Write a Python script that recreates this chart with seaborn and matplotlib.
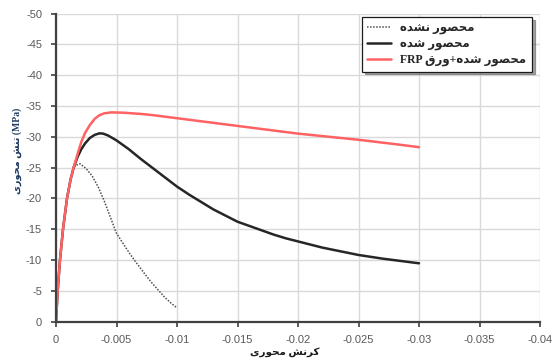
import matplotlib
matplotlib.use("Agg")
import matplotlib.pyplot as plt
from matplotlib.ticker import FuncFormatter
import seaborn as sns
import pandas as pd

# ---- data: axial strain (negative = compression) and axial stress in MPa ----
rise_strain = [0.0, -0.00014, -0.00033, -0.00058, -0.00091, -0.00120, -0.00146]
rise_stress = [0.0, -5.0, -10.0, -15.0, -20.0, -23.0, -25.0]

unconf_strain = rise_strain + [-0.0017, -0.0020, -0.0025, -0.0030, -0.0035, -0.0040, -0.0045,
                               -0.0050, -0.0055, -0.0060, -0.0065, -0.0070, -0.0075, -0.0080,
                               -0.0085, -0.0090, -0.0095, -0.0100]
unconf_stress = rise_stress + [-25.4, -25.6, -24.8, -23.6, -21.8, -19.5, -16.9,
                               -14.3, -12.8, -11.3, -9.9, -8.6, -7.3, -6.1,
                               -5.0, -3.9, -3.0, -2.2]

conf_strain = rise_strain + [-0.0018, -0.0021, -0.0024, -0.0028, -0.0032, -0.0036, -0.0039,
                             -0.0043, -0.005, -0.006, -0.007, -0.008, -0.009, -0.010,
                             -0.011, -0.012, -0.013, -0.014, -0.015, -0.016, -0.017,
                             -0.018, -0.019, -0.020, -0.021, -0.022, -0.023, -0.024,
                             -0.025, -0.026, -0.027, -0.028, -0.029, -0.030]
conf_stress = rise_stress + [-26.8, -28.0, -28.9, -29.8, -30.3, -30.55, -30.5,
                             -30.2, -29.4, -28.0, -26.4, -24.9, -23.4, -21.9,
                             -20.6, -19.4, -18.2, -17.2, -16.2, -15.5, -14.8,
                             -14.1, -13.5, -13.0, -12.5, -12.0, -11.6, -11.2,
                             -10.8, -10.5, -10.2, -9.95, -9.7, -9.45]

frp_strain = rise_strain + [-0.0018, -0.0021, -0.0024, -0.0028, -0.0032, -0.0036, -0.0040,
                            -0.0046, -0.0055, -0.007, -0.008, -0.009, -0.010,
                            -0.011, -0.012, -0.013, -0.014, -0.015, -0.016, -0.017,
                            -0.018, -0.019, -0.020, -0.021, -0.022, -0.023, -0.024,
                            -0.025, -0.026, -0.027, -0.028, -0.029, -0.030]
frp_stress = rise_stress + [-27.3, -29.2, -30.6, -31.9, -32.9, -33.5, -33.8,
                            -33.95, -33.9, -33.7, -33.5, -33.25, -33.0,
                            -32.75, -32.5, -32.25, -32.0, -31.75, -31.5, -31.25,
                            -31.0, -30.75, -30.5, -30.3, -30.1, -29.9, -29.7,
                            -29.5, -29.27, -29.03, -28.8, -28.55, -28.3]

series_names = ["محصور نشده", "محصور شده", "محصور شده+ورق FRP"]
x_title = "کرنش محوری"
y_title = "تنش محوری"
y_unit = " (MPa)"
x_ticks = [0, -0.005, -0.01, -0.015, -0.02, -0.025, -0.03, -0.035, -0.04]
y_ticks = list(range(0, -55, -5))

# ---- minimal Arabic-script shaping (contextual forms + visual order) ----
FORMS = {  # isolated, final, initial, medial
    "م": ("\uFEE1", "\uFEE2", "\uFEE3", "\uFEE4"),
    "ح": ("\uFEA1", "\uFEA2", "\uFEA3", "\uFEA4"),
    "ص": ("\uFEB9", "\uFEBA", "\uFEBB", "\uFEBC"),
    "ن": ("\uFEE5", "\uFEE6", "\uFEE7", "\uFEE8"),
    "ش": ("\uFEB5", "\uFEB6", "\uFEB7", "\uFEB8"),
    "ه": ("\uFEE9", "\uFEEA", "\uFEEB", "\uFEEC"),
    "ق": ("\uFED5", "\uFED6", "\uFED7", "\uFED8"),
    "ت": ("\uFE95", "\uFE96", "\uFE97", "\uFE98"),
    "ی": ("\uFBFC", "\uFBFD", "\uFBFE", "\uFBFF"),
    "ک": ("\uFB8E", "\uFB8F", "\uFB90", "\uFB91"),
    "و": ("\uFEED", "\uFEEE", None, None),
    "ر": ("\uFEAD", "\uFEAE", None, None),
    "د": ("\uFEA9", "\uFEAA", None, None),
}


def _joins_left(ch):
    return ch in FORMS and FORMS[ch][2] is not None


def shape(text):
    out = []
    for i, ch in enumerate(text):
        if ch not in FORMS:
            out.append(ch)
            continue
        prev = text[i - 1] if i > 0 else ""
        nxt = text[i + 1] if i + 1 < len(text) else ""
        p = _joins_left(prev)
        n = _joins_left(ch) and nxt in FORMS
        iso, fin, ini, med = FORMS[ch]
        out.append(med if (p and n) else fin if p else ini if n else iso)
    return "".join(out)


def visual(text):
    """Shape and lay out right-to-left, keeping Latin runs left-to-right."""
    shaped = shape(text)
    runs, cur, latin = [], "", None
    for ch in shaped:
        is_lat = ch.isascii() and ch.isalnum()
        if latin is None or is_lat == latin or ch == " ":
            cur += ch
            latin = is_lat if (latin is None and ch != " ") else latin
        else:
            runs.append((cur, latin))
            cur, latin = ch, is_lat
    runs.append((cur, latin))
    return "".join(r if lat else r[::-1] for r, lat in reversed(runs))


# ---- figure ----
sns.set_style("white")
plt.rcParams["font.family"] = ["Liberation Sans", "DejaVu Sans"]
persian_font = ["Liberation Serif", "DejaVu Sans"]

fig = plt.figure(figsize=(5.52, 3.62), dpi=100)
ax = fig.add_axes([56 / 552, 1 - 321.5 / 362, 484 / 552, 308 / 362])

frames = []
for name, xs, ys in [(series_names[0], unconf_strain, unconf_stress),
                     (series_names[1], conf_strain, conf_stress),
                     (series_names[2], frp_strain, frp_stress)]:
    frames.append(pd.DataFrame({"strain": xs, "stress": ys, "series": visual(name)}))
df = pd.concat(frames, ignore_index=True)

styles = [
    dict(color="#4d4d4d", lw=1.1, ls=(0, (1, 1))),
    dict(color="#262626", lw=1.8, ls="-"),
    dict(color="#ff6262", lw=1.8, ls="-"),
]
for name, st in zip(series_names, styles):
    sub = df[df["series"] == visual(name)]
    sns.lineplot(data=sub, x="strain", y="stress", ax=ax, sort=False, estimator=None,
                 color=st["color"], linewidth=st["lw"], linestyle=st["ls"],
                 label=visual(name))

ax.set_xlim(0, -0.04)
ax.set_ylim(0, -50)
ax.set_xticks(x_ticks)
ax.set_yticks(y_ticks)
ax.xaxis.set_major_formatter(FuncFormatter(lambda v, p: "0" if abs(v) < 1e-12 else f"{v:g}"))
ax.yaxis.set_major_formatter(FuncFormatter(lambda v, p: "0" if abs(v) < 1e-12 else f"{v:g}"))

ax.grid(True, color="#d9d9d9", linewidth=1.0)
ax.set_axisbelow(True)
for side in ("top", "right"):
    ax.spines[side].set_visible(False)
for side in ("left", "bottom"):
    ax.spines[side].set_color("#404040")
    ax.spines[side].set_linewidth(1.6)
ax.tick_params(axis="both", which="major", direction="out", length=3.5, width=1.2,
               color="#404040", labelsize=8, labelcolor="#595959", pad=6.5)
ax.tick_params(axis="both", bottom=True, left=True)

ax.set_xlabel(visual(x_title), fontsize=7.5, fontweight="bold", color="#1a1a1a",
              family=persian_font)
ax.xaxis.set_label_coords((284.5 - 56) / 484, -(352 - 321.5) / 308)
ax.xaxis.label.set_va("center")
ax.set_ylabel(visual(y_title) + y_unit, fontsize=7, fontweight="bold", color="#1f3a60",
              family=persian_font)
ax.yaxis.set_label_coords(-(56 - 17) / 484, (321.5 - 151) / 308)
ax.yaxis.label.set_va("center")

leg = ax.legend(loc="upper left", bbox_to_anchor=(362 / 552, 1 - 17 / 362),
                bbox_transform=fig.transFigure, frameon=True, fancybox=False,
                shadow=True, handlelength=2.0, handletextpad=0.8, borderpad=0.45,
                labelspacing=0.3, borderaxespad=0,
                prop={"family": persian_font, "weight": "bold", "size": 8.5})
leg.get_frame().set_edgecolor("#1a1a1a")
leg.get_frame().set_linewidth(0.9)

fig.savefig("out.png", dpi=100)
